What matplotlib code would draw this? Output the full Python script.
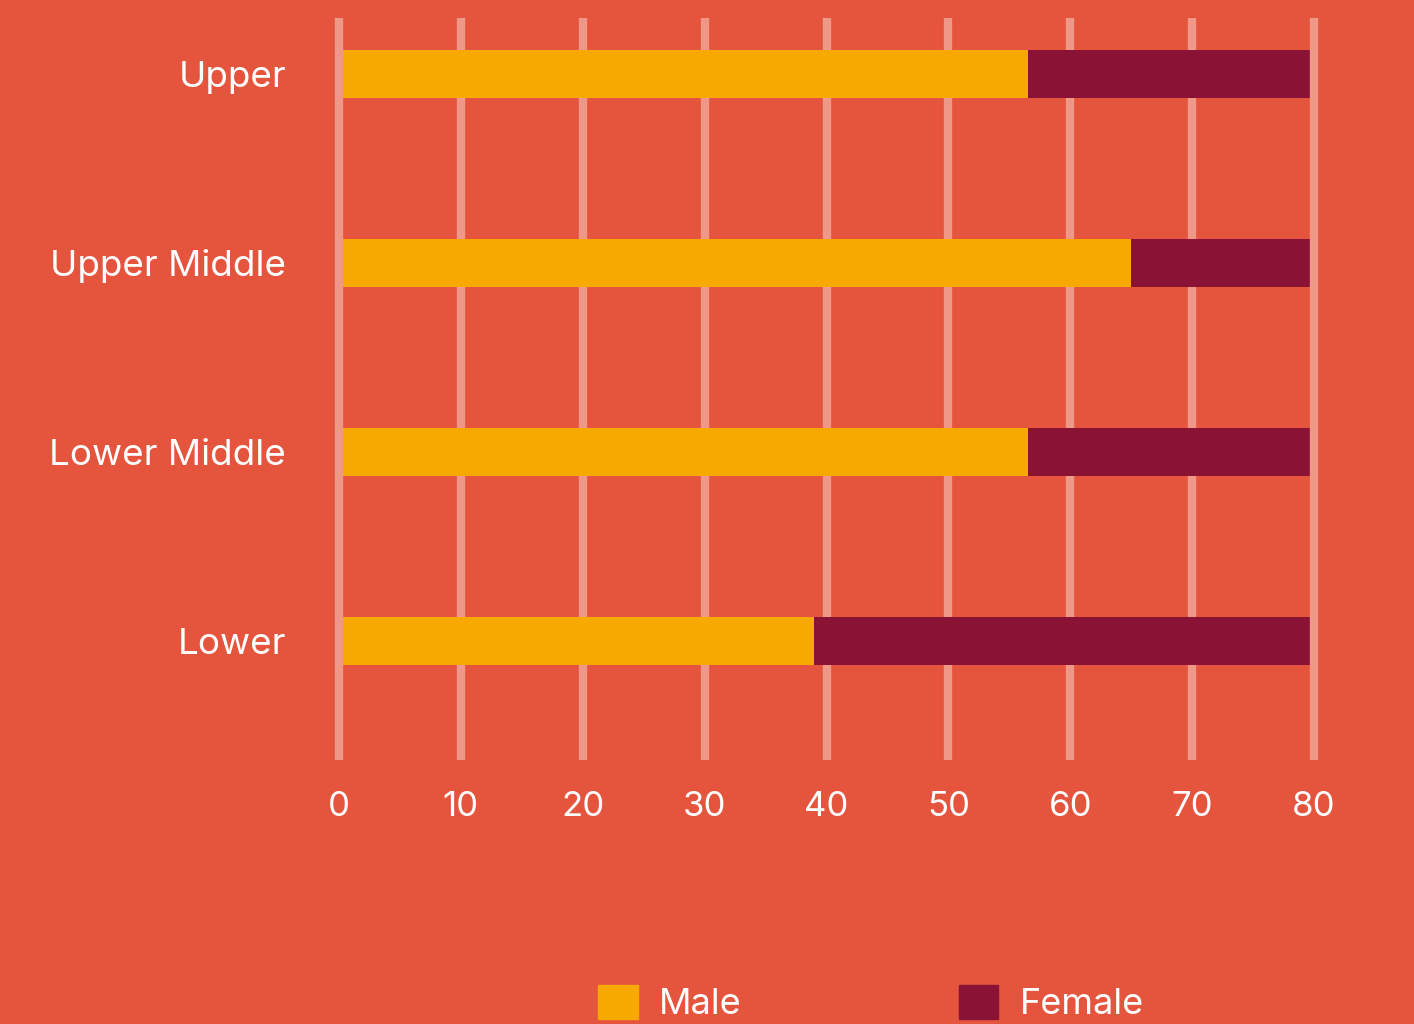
import matplotlib.pyplot as plt
from matplotlib.patches import Patch

# Income group shares by gender
groups = ['Lower', 'Lower Middle', 'Upper Middle', 'Upper']
male = [39.0, 56.5, 65.0, 56.5]
female = [41.0, 23.5, 15.0, 23.5]
ticks = [0, 10, 20, 30, 40, 50, 60, 70, 80]

bg = '#E5553D'
male_col = '#F7A900'
female_col = '#891235'
grid_col = '#F09888'
txt_col = 'white'

plt.rcParams['font.family'] = ['Inter', 'DejaVu Sans']

W, H = 1414, 1024
fig = plt.figure(figsize=(W / 100, H / 100), dpi=100, facecolor=bg)
ax = fig.add_axes([339 / W, 1 - 760 / H, (1314 - 339) / W, (760 - 18) / H])
ax.set_facecolor(bg)

ypos = list(range(len(groups)))
ax.barh(ypos, male, height=0.254, color=male_col, zorder=2)
ax.barh(ypos, female, left=male, height=0.254, color=female_col, zorder=2)

# vertical grid lines; the outer two sit on top of the bars
for t in ticks:
    z = 3 if t in (ticks[0], ticks[-1]) else 1
    ax.axvline(t, color=grid_col, lw=6, solid_capstyle='butt', clip_on=False, zorder=z)

ax.set_xlim(0, 80)
ax.set_ylim(-0.63, 3.296)
ax.set_xticks(ticks)
ax.set_xticklabels([str(t) for t in ticks], fontsize=25, color=txt_col)
ax.set_yticks(ypos)
ax.set_yticklabels(groups, fontsize=26.5, color=txt_col)
ax.tick_params(axis='x', length=0, pad=22)
ax.tick_params(axis='y', length=0, pad=38)
for s in ax.spines.values():
    s.set_visible(False)

handles = [Patch(color=male_col, label='Male'), Patch(color=female_col, label='Female')]
leg = fig.legend(handles=handles, loc='center', bbox_to_anchor=(871 / W, 1 - 1003 / H),
                 ncol=2, frameon=False, fontsize=26, handlelength=1.1, handleheight=1.1,
                 handletextpad=0.6, columnspacing=6.0, borderpad=0)
for t in leg.get_texts():
    t.set_color(txt_col)

fig.savefig('out.png', dpi=100, facecolor=bg)
